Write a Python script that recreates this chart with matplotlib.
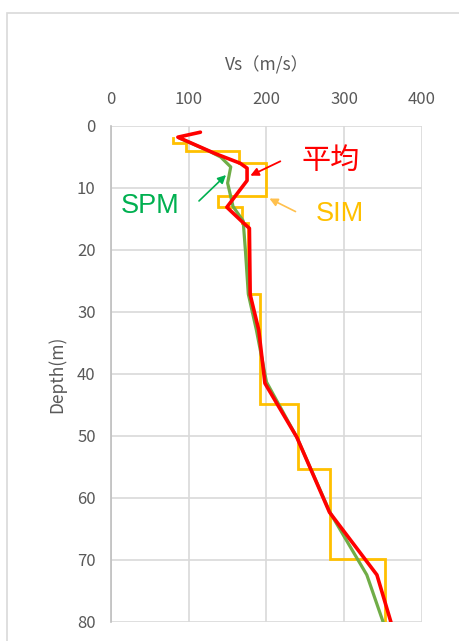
import matplotlib
matplotlib.use("Agg")
import matplotlib.pyplot as plt
import numpy as np
from matplotlib.patches import Rectangle

plt.rcParams['font.family'] = ['Noto Sans CJK JP', 'DejaVu Sans']

# SIM layered model (velocity per layer, layer tops, model bottom)
sim_v = [80, 97, 164, 199, 137, 168, 176, 192, 240, 282, 352]
sim_top = [2.0, 2.8, 4.1, 5.9, 11.3, 13.1, 15.7, 27.1, 44.8, 55.3, 69.9]
sim_bottom = 80

# SPM profile
spm_depth = [2.0, 4.1, 5.0, 6.6, 9.2, 13.0, 15.3, 20.3, 27.1, 32.9, 41.3, 50.2, 62.4, 72.4, 80]
spm_v = [89, 127, 141, 154, 150, 157, 170, 173, 176.6, 187, 200, 239, 282, 329, 350]

# average (平均) profile
avg_depth = [1.0, 1.8, 4.4, 6.0, 6.8, 8.8, 13.1, 15.6, 16.5, 27.2, 32.9, 41.5, 50.2, 62.3, 72.4, 80]
avg_v = [115, 86, 133, 166, 175, 175, 149, 170, 178, 179, 190, 198, 239, 281, 342, 360]

x_ticks = [0, 100, 200, 300, 400]
y_ticks = [0, 10, 20, 30, 40, 50, 60, 70, 80]

fig = plt.figure(figsize=(4.6, 6.41), dpi=100)
ax = fig.add_axes([111 / 460, 1 - 622 / 641, 311 / 460, 496 / 641])

# step line for SIM: each layer gives a vertical segment
bottoms = sim_top[1:] + [sim_bottom]
sx = np.repeat(sim_v, 2)
sy = np.column_stack([sim_top, bottoms]).ravel()
ax.plot(sx, sy, color='#FFC000', lw=2.0, zorder=2, solid_joinstyle='miter')
ax.plot(spm_v, spm_depth, color='#70AD47', lw=2.3, zorder=3)
ax.plot(avg_v, avg_depth, color='#FF0000', lw=2.6, zorder=4, solid_capstyle='round')

ax.set_xlim(0, 400)
ax.set_ylim(80, 0)
ax.set_xticks(x_ticks)
ax.set_yticks(y_ticks)
ax.xaxis.tick_top()
ax.xaxis.set_label_position('top')
ax.tick_params(axis='both', length=0, labelsize=12, colors='#595959')
ax.tick_params(axis='x', pad=13)
ax.tick_params(axis='y', pad=11)
ax.grid(True, color='#d9d9d9', lw=1.2)
ax.set_axisbelow(True)
for s in ['top', 'right', 'bottom']:
    ax.spines[s].set_visible(False)
ax.spines['left'].set_color('#bfbfbf')
ax.spines['left'].set_linewidth(1.2)

ax.set_xlabel('Vs（m/s）', fontsize=12.5, color='#595959', labelpad=15)
ax.set_ylabel('Depth(m)', fontsize=12.5, color='#595959', labelpad=8)

# labels with arrows
ax.annotate('', xy=(176, 8.2), xytext=(221, 5.5),
            arrowprops=dict(arrowstyle='-|>', color='#FF0000', lw=1.3, mutation_scale=12))
ax.text(282, 5.6, '平均', color='#FF0000', fontsize=21, ha='center', va='center')

ax.annotate('', xy=(150.5, 7.6), xytext=(110.6, 12.4),
            arrowprops=dict(arrowstyle='-|>', color='#00B050', lw=1.2, mutation_scale=12))
ax.text(50, 12.9, 'SPM', color='#00B050', fontsize=19.5, ha='center', va='center',
        family=['Liberation Sans', 'DejaVu Sans'])

ax.annotate('', xy=(200.6, 11.5), xytext=(240.5, 14.0),
            arrowprops=dict(arrowstyle='-|>', color='#FFC04D', lw=1.2, mutation_scale=12))
ax.text(294.5, 14.2, 'SIM', color='#FFC000', fontsize=19.5, ha='center', va='center',
        family=['Liberation Sans', 'DejaVu Sans'])

# chart area border (cut off at right and bottom)
fig.patches.append(Rectangle((7 / 460, -0.1), 2, 1 - 13 / 641 + 0.1, transform=fig.transFigure,
                             fill=False, edgecolor='#d9d9d9', lw=1.2))

fig.savefig('out.png', dpi=100)
